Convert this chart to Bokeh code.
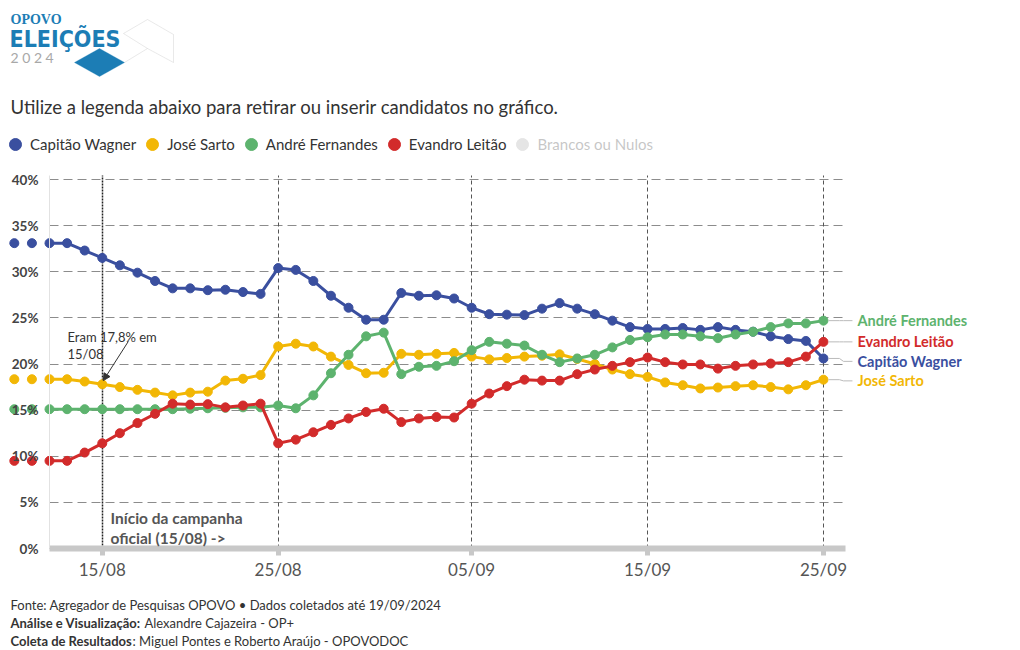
import pandas as pd
from bokeh.plotting import figure
from bokeh.models import (Range1d, FixedTicker, DatetimeTickFormatter, PrintfTickFormatter, Label,
                          Legend, LegendItem, Arrow, NormalHead, PolyAnnotation, Grid)
from bokeh.embed import file_html
from bokeh.resources import INLINE

# ---------------- data ----------------
dates = pd.date_range("2024-08-12", "2024-09-25", freq="D")
pre_dates = pd.to_datetime(["2024-08-10", "2024-08-11"])

capitao = [33.1, 33.1, 32.3, 31.5, 30.7, 29.9, 29.0, 28.2, 28.2, 28.0, 28.05, 27.8, 27.6, 30.4, 30.2,
           29.0, 27.4, 26.1, 24.8, 24.8, 27.7, 27.4, 27.45, 27.1, 26.1, 25.4, 25.35, 25.3, 26.0, 26.6,
           26.0, 25.4, 24.7, 24.0, 23.8, 23.8, 23.9, 23.7, 24.0, 23.7, 23.5, 23.0, 22.7, 22.5, 20.6]
sarto = [18.35, 18.35, 18.1, 17.8, 17.5, 17.2, 16.9, 16.6, 16.9, 17.0, 18.2, 18.4, 18.8, 21.9, 22.2,
         21.9, 20.8, 19.9, 19.0, 19.05, 21.1, 21.0, 21.1, 21.2, 20.8, 20.5, 20.65, 20.8, 20.9, 21.05,
         20.55, 20.0, 19.4, 18.9, 18.6, 18.0, 17.7, 17.35, 17.45, 17.6, 17.7, 17.5, 17.25, 17.7, 18.3]
andre = [15.1, 15.1, 15.1, 15.1, 15.1, 15.1, 15.1, 15.1, 15.15, 15.2, 15.25, 15.3, 15.3, 15.5, 15.2,
         16.6, 19.0, 21.0, 23.0, 23.4, 18.9, 19.7, 19.8, 20.3, 21.5, 22.4, 22.2, 22.0, 21.0, 20.2,
         20.6, 21.0, 21.8, 22.6, 22.9, 23.2, 23.2, 23.0, 22.8, 23.2, 23.5, 24.0, 24.4, 24.4, 24.7]
evandro = [9.5, 9.5, 10.4, 11.4, 12.5, 13.6, 14.6, 15.7, 15.6, 15.65, 15.3, 15.5, 15.7, 11.4, 11.8,
           12.6, 13.4, 14.1, 14.8, 15.15, 13.7, 14.1, 14.25, 14.2, 15.7, 16.8, 17.6, 18.3, 18.2, 18.2,
           18.9, 19.4, 19.8, 20.2, 20.7, 20.2, 19.95, 19.95, 19.5, 19.8, 19.95, 20.05, 20.2, 20.8, 22.4]
# earlier (pre-period) values, drawn as loose dots
capitao_pre = [33.1, 33.1]
sarto_pre = [18.35, 18.35]
andre_pre = [15.1, 15.1]
evandro_pre = [9.5, 9.5]

names = ["Capitão Wagner", "José Sarto", "André Fernandes", "Evandro Leitão"]
colors = ["#3a4f9f", "#f2b705", "#5db36e", "#d22b2b"]
series = [capitao, sarto, andre, evandro]
series_pre = [capitao_pre, sarto_pre, andre_pre, evandro_pre]
hidden_name = "Brancos ou Nulos"   # series hidden in the reference (no values shown)

tick_dates = pd.to_datetime(["2024-08-15", "2024-08-25", "2024-09-05", "2024-09-15", "2024-09-25"])
campaign_start = pd.Timestamp("2024-08-15")
y_ticks = [0, 5, 10, 15, 20, 25, 30, 35, 40]

# ---------------- geometry ----------------
W, H = 1020, 650
FL, FR, FT, FB = 49, 845, 175, 548      # plot area inside the canvas
PX_DAY = 17.59
PX_PCT = 9.225
EPOCH = pd.Timestamp("1970-01-01")


def ms(ts):
    return (pd.Timestamp(ts) - EPOCH).total_seconds() * 1000.0


MS_PX = 86400000.0 / PX_DAY
x0 = ms(dates[0])
x_plot_end = x0 + (FR - FL) * MS_PX
y_top = (FB - FT) / PX_PCT

p = figure(width=W, height=H, x_axis_type="datetime",
           x_range=Range1d(x0 - FL * MS_PX, x0 + (W - FL) * MS_PX),
           y_range=Range1d(-(H - FB) / PX_PCT, FB / PX_PCT),
           output_backend="svg", toolbar_location=None,
           min_border_left=0, min_border_right=0, min_border_top=0, min_border_bottom=0)
p.outline_line_color = None
p.background_fill_color = "white"
p.border_fill_color = "white"
p.grid.visible = False

# axes (placed inside the canvas)
xa = p.xaxis[0]
xa.fixed_location = 0
xa.bounds = (x0, x_plot_end)
xa.ticker = FixedTicker(ticks=[ms(d) for d in tick_dates])
xa.formatter = DatetimeTickFormatter(days="%d/%m", months="%d/%m", years="%d/%m", hours="%d/%m",
                                     strip_leading_zeros=False)
xa.axis_line_color = "#c8c8c8"
xa.axis_line_width = 6
xa.major_tick_line_color = "#c8c8c8"
xa.major_tick_line_width = 5
xa.major_tick_out = 7
xa.major_tick_in = 0
xa.minor_tick_line_color = None
xa.major_label_standoff = 3
xa.major_label_text_font = "Lato"
xa.major_label_text_font_size = "17px"
xa.major_label_text_color = "#555555"

ya = p.yaxis[0]
ya.fixed_location = x0
ya.bounds = (0, y_top)
ya.ticker = FixedTicker(ticks=y_ticks)
ya.formatter = PrintfTickFormatter(format="%d%%")
ya.axis_line_color = "#e2e2e2"
ya.axis_line_width = 1
ya.major_tick_line_color = None
ya.minor_tick_line_color = None
ya.major_tick_out = 0
ya.major_tick_in = 0
ya.major_label_standoff = 11
ya.major_label_text_font = "Lato"
ya.major_label_text_font_style = "bold"
ya.major_label_text_font_size = "13.5px"
ya.major_label_text_color = "#444444"

ygrid = Grid(dimension=1, ticker=FixedTicker(ticks=y_ticks), bounds=(0, y_top),
             cross_bounds=(x0, x_plot_end), grid_line_color="#8c8c8c", grid_line_dash="9 5",
             grid_line_width=1)
xgrid = Grid(dimension=0, ticker=FixedTicker(ticks=[ms(d) for d in tick_dates if d != campaign_start]),
             cross_bounds=(0, y_top), grid_line_color="#555555", grid_line_dash="4 3", grid_line_width=1)
cgrid = Grid(dimension=0, ticker=FixedTicker(ticks=[ms(campaign_start)]),
             cross_bounds=(0, y_top), grid_line_color="#222222", grid_line_dash="2 1", grid_line_width=1.5)
for g in (ygrid, xgrid, cgrid):
    p.add_layout(g)

# ---------------- series ----------------
items = []
for name, col, vals, pre in zip(names, colors, series, series_pre):
    ln = p.line(x=list(dates), y=vals, line_color=col, line_width=3)
    sc = p.scatter(x=list(dates), y=vals, size=9, fill_color=col, line_color=col)
    pr = p.scatter(x=list(pre_dates), y=pre, size=9, fill_color=col, line_color=col)
    sc.js_link("visible", ln, "visible")
    sc.js_link("visible", pr, "visible")
    items.append(LegendItem(label=name, renderers=[sc]))

# hidden series: only its legend entry is shown (toggled off)
hid = p.scatter(x=[float("nan")], y=[float("nan")], size=9, fill_color="#a0a0a0",
                line_color="#a0a0a0", visible=False)
items.append(LegendItem(label=hidden_name, renderers=[hid]))

legend = Legend(items=items, location=(0, H - 159), orientation="horizontal",
                glyph_width=30, glyph_height=30, label_standoff=0, spacing=1, padding=0, margin=0,
                background_fill_alpha=0, border_line_alpha=0, label_text_font="Lato",
                label_text_font_size="15px", label_text_color="#333333", click_policy="hide",
                inactive_fill_color="white", inactive_fill_alpha=0.72)
p.add_layout(legend)

# ---------------- end labels with connectors ----------------
last_x = ms(dates[-1])
order = sorted(range(len(series)), key=lambda i: -series[i][-1])
gap = 19.5 / PX_PCT
label_y = {}
prev = None
for i in order:
    y = series[i][-1]
    if prev is not None and prev - y < gap:
        y = prev - gap
    label_y[i] = y
    prev = y
for i in order:
    v = series[i][-1]
    ly = label_y[i]
    xs = [last_x + 5 * MS_PX, last_x + 16 * MS_PX, last_x + 20 * MS_PX, last_x + 29 * MS_PX]
    ys = [v, v, ly, ly]
    p.line(x=xs, y=ys, line_color="#bbbbbb", line_width=1)
    p.add_layout(Label(x=last_x, y=ly, x_offset=34, text=names[i], text_font="Lato",
                       text_font_style="bold", text_font_size="14.5px", text_color=colors[i],
                       text_baseline="middle", text_align="left"))


# ---------------- texts ----------------
def add_text(text, px, py, size, color="#333333", style="normal", font="Lato", align="left"):
    p.add_layout(Label(x=px, y=H - py, x_units="screen", y_units="screen", text=text,
                       text_font=font, text_font_size=f"{size}px", text_color=color,
                       text_font_style=style, text_align=align, text_baseline="middle"))


add_text("Eram 17,8% em", 67, 336, 13, "#333333")
add_text("15/08", 67, 353, 13, "#333333")
x_cs = ms(campaign_start)
p.add_layout(Arrow(end=NormalHead(size=7, fill_color="#333333", line_color="#333333", line_width=1),
                   x_start=x_cs + 26 * MS_PX, y_start=(FB - 341) / PX_PCT,
                   x_end=x_cs + 1 * MS_PX, y_end=sarto[3] + 0.4,
                   line_color="#333333", line_width=1))

add_text("Início da campanha", 110, 517, 15.5, "#555555", "bold")
add_text("oficial (15/08) ->", 110, 537, 15.5, "#555555", "bold")

# title area
add_text("Utilize a legenda abaixo para retirar ou inserir candidatos no gráfico.", 10, 106, 18.5, "#333333")

# logo
add_text("OPOVO", 10, 19, 14, "#1c7db5", "bold", "Liberation Serif")
add_text("ELEIÇÕES", 9, 38, 23, "#1c7db5", "bold", "DejaVu Sans Condensed")
add_text("2 0 2 4", 10, 57, 14, "#a8a8a8", "normal", "Lato")


def sxs(pts):
    return [a for a, b in pts], [H - b for a, b in pts]


dx, dy = sxs([(74, 62), (99, 48), (124, 62), (99, 76)])
p.add_layout(PolyAnnotation(xs=dx, ys=dy, xs_units="screen", ys_units="screen",
                            fill_color="#1c7db5", fill_alpha=1, line_color="#1c7db5", line_width=1))
ox, oy = sxs([(123, 33), (147, 19), (173, 34), (173, 62), (147, 48)])
p.add_layout(PolyAnnotation(xs=ox, ys=oy, xs_units="screen", ys_units="screen",
                            fill_alpha=0, line_color="#b5b5b5", line_width=1))
lx, ly2 = sxs([(147, 48), (124, 62)])
p.add_layout(PolyAnnotation(xs=lx, ys=ly2, xs_units="screen", ys_units="screen",
                            fill_alpha=0, line_color="#b5b5b5", line_width=1))

# footer
add_text("Fonte: Agregador de Pesquisas OPOVO • Dados coletados até 19/09/2024", 10, 604, 13, "#333333")
add_text("Análise e Visualização:", 10, 622, 13, "#333333", "bold")
add_text("Alexandre Cajazeira - OP+", 144, 622, 13, "#333333")
add_text("Coleta de Resultados", 10, 640, 13, "#333333", "bold")
add_text(": Miguel Pontes e Roberto Araújo - OPOVODOC", 132, 640, 13, "#333333")

open("out.html", "w").write(file_html(p, INLINE))
